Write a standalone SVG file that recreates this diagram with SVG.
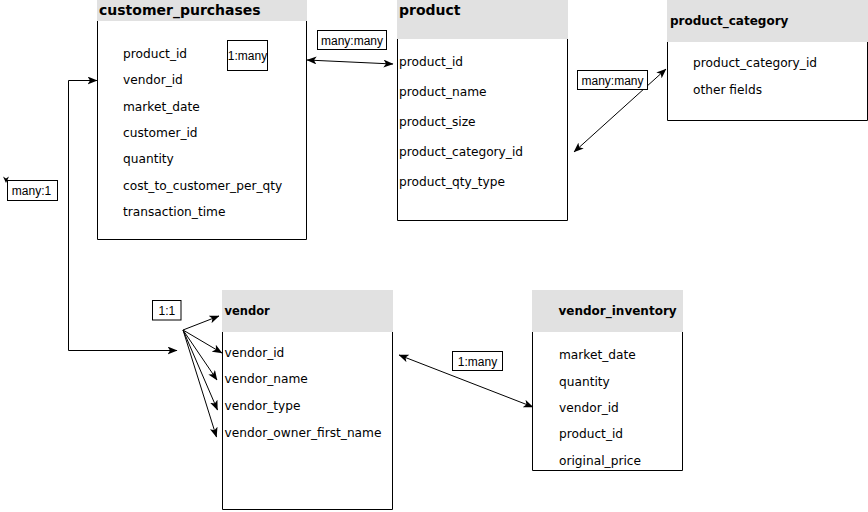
<svg xmlns="http://www.w3.org/2000/svg" width="868" height="512" viewBox="0 0 868 512">
  <defs>
    <marker id="arrow" viewBox="0 0 10 8" refX="9.5" refY="4" markerWidth="10" markerHeight="8" markerUnits="userSpaceOnUse" orient="auto-start-reverse">
      <path d="M0,0 L10,4 L0,8 L2.5,4 Z" fill="#000"/>
    </marker>
    <style>
      .body { fill: #fff; stroke: #000; stroke-width: 1; }
      .head { fill: #e1e1e1; stroke: none; }
      .title { font-family: "DejaVu Sans", Verdana, sans-serif; font-weight: bold; fill: #000; }
      .field { font-family: "DejaVu Sans", Verdana, sans-serif; font-size: 12.2px; fill: #000; }
      .lbox { fill: #fff; stroke: #000; stroke-width: 1; }
      .ltext { font-family: "Liberation Sans", Arial, sans-serif; font-size: 12px; fill: #000; text-anchor: middle; }
      .edge { fill: none; stroke: #000; stroke-width: 1; }
    </style>
  </defs>
  <rect width="868" height="512" fill="#fff"/>

  <!-- tables -->
  <g id="customer_purchases">
    <path class="body" d="M97.5,21 V239.5 H306.5 V21"/>
    <rect class="head" x="97" y="0" width="210" height="21"/>
    <text class="title" x="99" y="15" font-size="14px">customer_purchases</text>
    <g class="field" font-size="12.4px">
      <text x="123" y="57.5">product_id</text>
      <text x="123" y="84">vendor_id</text>
      <text x="123" y="110.5">market_date</text>
      <text x="123" y="137">customer_id</text>
      <text x="123" y="163">quantity</text>
      <text x="123" y="189.5">cost_to_customer_per_qty</text>
      <text x="123" y="216">transaction_time</text>
    </g>
  </g>

  <g id="product">
    <path class="body" d="M397.5,39 V220.5 H567.5 V39"/>
    <rect class="head" x="397" y="0" width="171" height="39"/>
    <text class="title" x="399" y="15" font-size="14px">product</text>
    <g class="field">
      <text x="399" y="65.5">product_id</text>
      <text x="399" y="95.5">product_name</text>
      <text x="399" y="125.5">product_size</text>
      <text x="399" y="155.5">product_category_id</text>
      <text x="399" y="185.5">product_qty_type</text>
    </g>
  </g>

  <g id="product_category">
    <path class="body" d="M667.5,42 V120.5 H867.5 V42"/>
    <rect class="head" x="667" y="0" width="201" height="42"/>
    <text class="title" x="670" y="25" font-size="12px">product_category</text>
    <g class="field">
      <text x="693" y="66.5">product_category_id</text>
      <text x="693" y="93.5">other fields</text>
    </g>
  </g>

  <g id="vendor">
    <path class="body" d="M222.5,332 V509.5 H392.5 V332"/>
    <rect class="head" x="222" y="290" width="171" height="42"/>
    <text class="title" x="224.5" y="315" font-size="11.5px" font-family="Liberation Sans, Arial, sans-serif">vendor</text>
    <g class="field">
      <text x="224.5" y="356.5">vendor_id</text>
      <text x="224.5" y="383">vendor_name</text>
      <text x="224.5" y="409.5">vendor_type</text>
      <text x="224.5" y="436.5">vendor_owner_first_name</text>
    </g>
  </g>

  <g id="vendor_inventory">
    <path class="body" d="M532.5,332 V470.5 H682.5 V332"/>
    <rect class="head" x="532" y="290" width="151" height="42"/>
    <text class="title" x="558.5" y="315" font-size="12px">vendor_inventory</text>
    <g class="field">
      <text x="559" y="359">market_date</text>
      <text x="559" y="385.5">quantity</text>
      <text x="559" y="411.5">vendor_id</text>
      <text x="559" y="438">product_id</text>
      <text x="559" y="464.5">original_price</text>
    </g>
  </g>

  <!-- connectors -->
  <g id="connectors">
    <path class="edge" d="M307,60 L393,64" marker-start="url(#arrow)" marker-end="url(#arrow)"/>
    <path class="edge" d="M574,152 L666,69" marker-start="url(#arrow)" marker-end="url(#arrow)"/>
    <path class="edge" d="M399,355 L533,407" marker-start="url(#arrow)" marker-end="url(#arrow)"/>
    <path class="edge" d="M97,80.5 H68.5 V350.5 H177" marker-start="url(#arrow)" marker-end="url(#arrow)"/>
    <path class="edge" d="M183,330 L219,316" marker-end="url(#arrow)"/>
    <path class="edge" d="M183,330 L222,353" marker-end="url(#arrow)"/>
    <path class="edge" d="M183,330 L217,380" marker-end="url(#arrow)"/>
    <path class="edge" d="M183,330 L217.5,410" marker-end="url(#arrow)"/>
    <path class="edge" d="M183,330 L216.5,437" marker-end="url(#arrow)"/>
    <path d="M3,176.5 L6,183 L9,176.5 L6,178.5 Z" fill="#000"/>
  </g>

  <!-- relationship labels -->
  <g id="labels">
    <rect class="lbox" x="227.5" y="40.5" width="40" height="30"/>
    <text class="ltext" x="247.5" y="59.5">1:many</text>
    <rect class="lbox" x="317.5" y="30.5" width="69" height="19"/>
    <text class="ltext" x="352" y="44.5">many:many</text>
    <rect class="lbox" x="577.5" y="70.5" width="70" height="19"/>
    <text class="ltext" x="612.5" y="84.5">many:many</text>
    <rect class="lbox" x="7.5" y="180.5" width="50" height="20"/>
    <text class="ltext" x="31.5" y="195">many:1</text>
    <rect class="lbox" x="152.5" y="300.5" width="28.5" height="19.5"/>
    <text class="ltext" x="166.8" y="315">1:1</text>
    <rect class="lbox" x="452.5" y="351.5" width="50" height="19"/>
    <text class="ltext" x="477.5" y="365.5">1:many</text>
  </g>
</svg>
